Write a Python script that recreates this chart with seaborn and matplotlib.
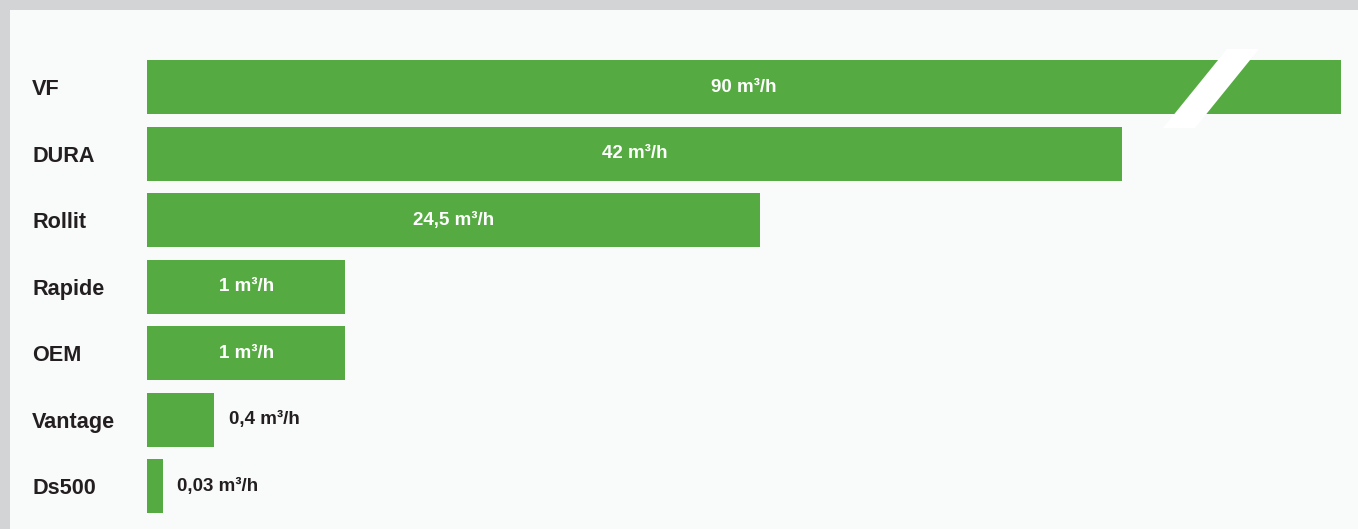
import matplotlib
matplotlib.use("Agg")
import matplotlib.pyplot as plt
import seaborn as sns
import pandas as pd
from matplotlib.patches import Rectangle, Polygon

# ---- data ----
categories = ["VF", "DURA", "Rollit", "Rapide", "OEM", "Vantage", "Ds500"]
values = [90, 42, 24.5, 1, 1, 0.4, 0.03]          # m³/h, as labelled
# the chart uses a broken, non-linear display scale: relative bar lengths
display_length = [100, 81.7, 51.3, 16.6, 16.6, 5.6, 1.3]
label_inside = [True, True, True, True, True, False, False]

df = pd.DataFrame({"cat": categories, "len": display_length})

W, H = 1358, 529
sns.set_theme(style="white")
plt.rcParams["font.family"] = ["Liberation Sans", "DejaVu Sans"]

fig = plt.figure(figsize=(W / 100, H / 100), dpi=100)
fig.patch.set_facecolor("#d3d4d6")
# inner panel
fig.patches.append(Rectangle((10 / W, 0), 1, 1 - 10 / H, transform=fig.transFigure,
                             facecolor="#f9fafa", edgecolor="none", zorder=-3))

ax_top, ax_bot = 53.75, 519.25
ax = fig.add_axes([147 / W, (H - ax_bot) / H, (1341 - 147) / W, (ax_bot - ax_top) / H])
ax.set_facecolor("none")

green = "#55ab41"
sns.barplot(data=df, x="len", y="cat", orient="h", color=green, width=54 / 66.5,
            saturation=1, ax=ax, edgecolor="none")

ax.set_xlim(0, 100)
ax.set_ylim(len(categories) - 0.5, -0.5)
ax.set_xlabel("")
ax.set_ylabel("")
ax.set_xticks([])
for s in ax.spines.values():
    s.set_visible(False)

ax.tick_params(axis="y", length=0, pad=(147 - 32) * 0.72)
for lab in ax.get_yticklabels():
    lab.set_ha("left")
    lab.set_fontsize(15.6)
    lab.set_fontweight("bold")
    lab.set_color("#231f20")

for i, (v, L, inside) in enumerate(zip(values, display_length, label_inside)):
    txt = f"{v:g}".replace(".", ",") + " m³/h"
    if inside:
        ax.text(L / 2, i, txt, ha="center", va="center", color="white",
                fontsize=13.5, fontweight="bold")
    else:
        ax.text(L + 1.25, i, txt, ha="left", va="center", color="#231f20",
                fontsize=13.5, fontweight="bold")

# break mark on the VF bar
pts = [(1227, 49), (1259, 49), (1195, 128), (1163, 128)]
fig.patches.append(Polygon([(x / W, 1 - y / H) for x, y in pts], closed=True,
                           transform=fig.transFigure, facecolor="white",
                           edgecolor="none", zorder=5))

fig.savefig("out.png", dpi=100, facecolor=fig.get_facecolor())
